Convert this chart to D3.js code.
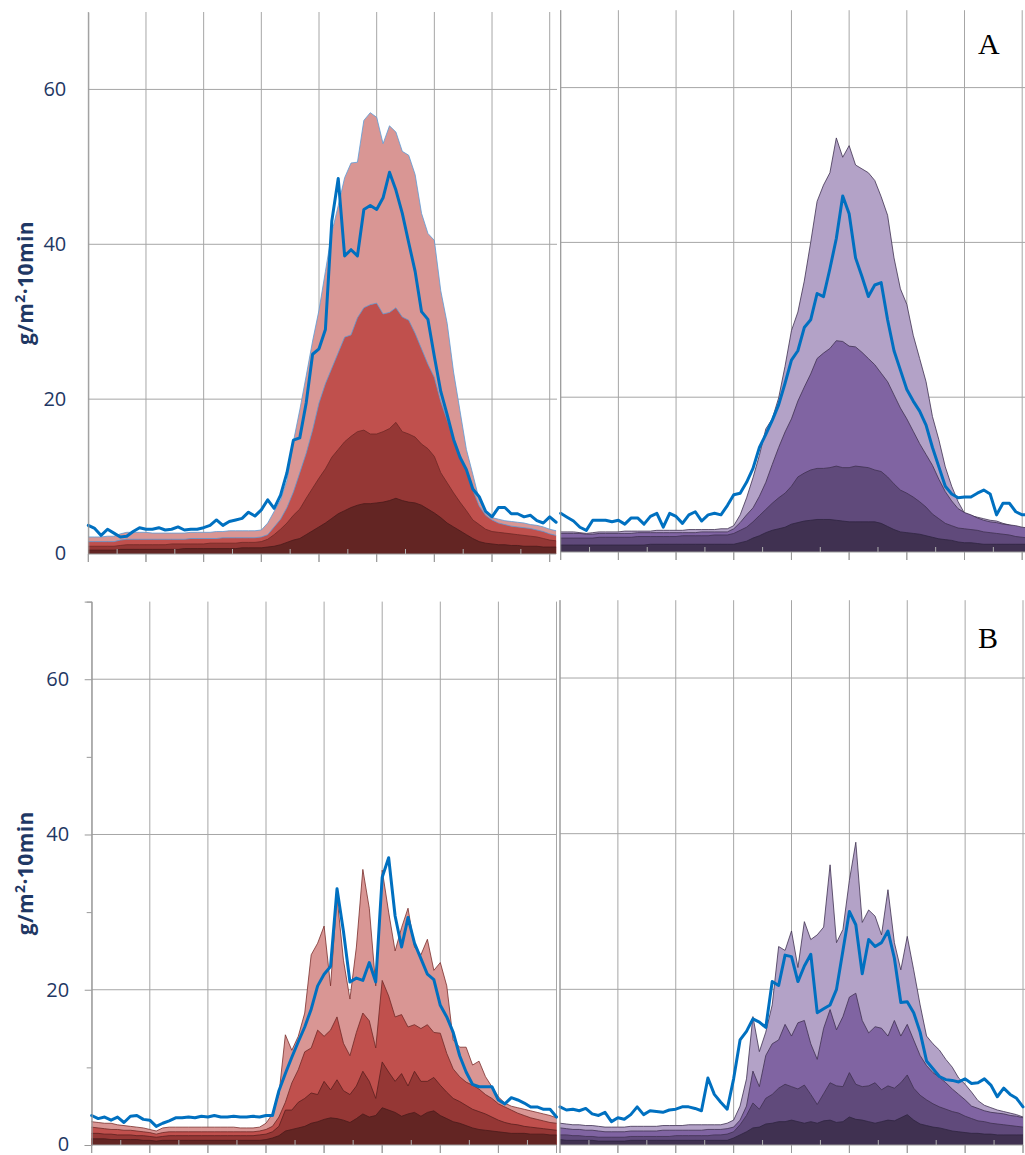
<!DOCTYPE html>
<html><head><meta charset="utf-8">
<script src="https://cdn.jsdelivr.net/npm/d3@7"></script>
<style>body{margin:0;background:#fff}svg{display:block}</style>
</head><body>
<svg id="c" width="1025" height="1155"></svg>
<script>
// ---------------- data ----------------
const yTickValues = [0, 20, 40, 60];
const yMinorValues = [10, 30, 50, 70];
const yTitleMain = "g/m";
const yTitleSup = "2";
const yTitleTail = "·10min";
const panelLetters = ["A", "B"];

// Panel A (red) : cumulative layer tops + measured line
const redA_L1 = [2.2,2.2,2.2,2.3,2.3,2.6,2.8,2.8,2.8,2.8, 2.7,2.7,2.7,2.7,2.7,2.7,2.8,2.8,2.8,2.8, 2.9,2.9,3.0,3.0,3.0,3.0,3.0,3.1,4.0,5.5, 7.0,9.5,14.5,18.6,23,27.5,31.5,36.5,41.5,45, 48.6,50.5,50.6,56,57,56.4,53,55.3,54.5,52, 51.5,49,44,41.4,40.5,34,29.8,23.5,18.5,13.5, 10.3,7.0,5.4,4.7,4.5,4.3,4.2,4.1,4.0,3.8, 3.7,3.5,3.2,3.0];
const redA_L2 = [1.6,1.6,1.6,1.6,1.6,1.8,1.9,1.9,1.9,1.9, 1.9,1.9,1.9,1.9,1.9,1.9,2.0,2.0,2.0,2.0, 2.0,2.1,2.1,2.1,2.1,2.1,2.1,2.2,2.5,3.5, 4.5,6.0,8.0,10.5,13,16,19.5,22,24,26, 28,28.3,30.5,31.8,32.2,32.4,31,31.2,31.8,30.6, 30.2,28.5,26.5,24.5,22.8,19.7,17.3,15,12.8,10.8, 8.3,6.2,5.0,4.4,4.0,3.8,3.6,3.5,3.4,3.3, 3.1,2.9,2.6,2.4];
const redA_L3 = [1.0,1.0,1.0,1.0,1.0,1.1,1.2,1.2,1.2,1.2, 1.2,1.2,1.2,1.3,1.3,1.3,1.3,1.3,1.3,1.4, 1.4,1.4,1.4,1.4,1.5,1.5,1.5,1.6,1.9,2.5, 3.2,4.0,5.0,5.8,7.2,8.5,9.8,11,12.5,13.5, 14.5,15.2,15.8,16,15.5,15.5,15.8,16.2,17,15.8, 15.5,15.1,14.2,13.6,12.6,10.5,9.2,7.9,6.7,5.6, 4.4,3.8,3.2,2.9,2.8,2.7,2.6,2.5,2.4,2.3, 2.2,2.0,1.8,1.7];
const redA_L4 = [0.5,0.5,0.5,0.5,0.5,0.6,0.6,0.6,0.6,0.6, 0.6,0.6,0.6,0.6,0.6,0.7,0.7,0.7,0.7,0.7, 0.7,0.7,0.7,0.7,0.8,0.8,0.8,0.8,0.9,1.0, 1.2,1.5,1.8,2.0,2.5,3.0,3.5,4.0,4.6,5.2, 5.6,6.0,6.3,6.5,6.5,6.6,6.7,6.9,7.2,6.9, 6.7,6.6,6.3,5.8,5.3,4.7,4.0,3.5,3.0,2.5, 2.0,1.6,1.4,1.3,1.2,1.2,1.1,1.1,1.0,1.0, 1.0,0.9,0.9,0.9];
const redA_line = [3.7,3.3,2.4,3.2,2.7,2.2,2.3,2.9,3.4,3.2, 3.2,3.4,3.1,3.2,3.5,3.1,3.2,3.2,3.4,3.7, 4.4,3.7,4.2,4.4,4.6,5.4,4.9,5.7,7.0,5.9, 7.6,10.5,14.7,15,19.5,25.8,26.5,29,43,48.5, 38.5,39.3,38.5,44.5,45,44.5,46,49.3,47,44, 40.2,36.5,31.3,30.3,25.5,21,18,14.8,12.5,10.9, 8.4,7.4,5.5,4.8,6.0,6.0,5.2,5.2,4.8,5.0, 4.3,4.0,4.8,4.1];

// Panel A (purple)
const purA_L1 = [2.6,2.6,2.6,2.5,2.4,2.5,2.6,2.6,2.6,2.6, 2.7,2.7,2.7,2.7,2.7,2.8,2.8,2.8,2.8,2.8, 2.9,2.9,2.9,2.9,2.9,3.0,3.0,3.4,4.8,7.0, 9.6,12.5,15.9,17.2,19.9,24,28.6,31,35,40, 45.3,47.4,49,53.5,51,52.5,50,49.5,49,48, 45.9,43.5,38,34,32,28,25,22,17.5,14.5, 11,8.5,6.5,5.0,4.7,4.5,4.3,4.1,4.0,3.7, 3.5,3.2,2.9,2.7];
const purA_L2 = [2.4,2.4,2.4,2.4,2.3,2.3,2.4,2.4,2.4,2.4, 2.4,2.4,2.5,2.5,2.5,2.5,2.5,2.5,2.5,2.5, 2.5,2.5,2.6,2.6,2.6,2.6,2.6,3.0,3.8,4.8, 5.7,7.2,9.0,11.3,13.5,15.5,17.2,19.5,21.3,23, 25,25.7,26.3,27.3,27.2,26.6,26.5,25.8,25,24.2, 23.1,22,20.3,18.6,17.2,15.6,14,12.6,11.2,9.4, 7.8,6.6,5.6,5.1,4.8,4.4,4.1,3.9,3.8,3.6, 3.5,3.4,3.2,3.1];
const purA_L3 = [1.8,1.8,1.8,1.8,1.8,1.8,1.9,1.9,1.9,1.9, 1.9,1.9,2.0,2.0,2.0,2.0,2.0,2.0,2.0,2.1, 2.1,2.1,2.1,2.1,2.2,2.2,2.2,2.4,2.8,3.2, 3.9,4.7,5.5,6.3,7.0,7.6,8.5,9.7,10.2,10.6, 10.8,10.8,10.9,11.1,10.9,10.9,11.1,11.0,10.9,10.6, 10.4,9.7,8.8,8.0,7.6,7.1,6.5,5.8,4.9,4.3, 3.7,3.4,3.1,3.0,2.9,2.8,2.6,2.5,2.4,2.3, 2.2,2.0,1.9,1.8];
const purA_L4 = [0.9,0.9,0.9,0.9,0.9,0.9,0.9,0.9,0.9,0.9, 0.9,0.9,0.9,0.9,1.0,1.0,1.0,1.0,1.0,1.0, 1.0,1.0,1.0,1.0,1.0,1.0,1.0,1.0,1.2,1.4, 1.8,2.1,2.5,2.8,3.0,3.2,3.6,3.8,4.0,4.1, 4.2,4.2,4.2,4.1,4.0,3.9,3.9,3.9,3.9,3.9, 3.7,3.3,2.9,2.6,2.5,2.4,2.3,2.1,1.9,1.7, 1.6,1.5,1.3,1.2,1.2,1.1,1.0,1.0,1.0,1.0, 1.0,1.0,1.0,1.0];
const purA_line = [5.0,4.5,4.0,3.2,2.8,4.1,4.1,4.1,3.9,4.1, 3.6,4.4,4.4,3.6,4.6,5.0,3.2,5.0,4.6,3.7, 4.8,5.2,4.0,4.8,5.0,4.8,6.0,7.4,7.6,9.0, 10.8,13.5,15.2,17,19,21.8,24.8,26,29,30, 33.4,33,36.6,40.5,46,43.7,38,35.6,33,34.5, 34.8,30,26,23.5,21,19.5,18.2,16.4,13.5,11, 8.5,7.5,7,7.1,7.1,7.6,8,7.5,4.8,6.3, 6.3,5.2,4.8,4.8];

// Panel B (red)
const redB_L1 = [3.0,2.9,2.8,2.8,2.6,2.5,2.4,2.3,2.2,2.0, 1.8,2.2,2.3,2.3,2.3,2.3,2.3,2.3,2.3,2.3, 2.3,2.3,2.3,2.2,2.2,2.2,2.3,2.8,4.0,6.5, 14.2,12.2,14,17,24.5,26,28.2,20.5,32,23.8, 18.8,25.5,35.5,30.5,20.5,35.4,30,25,28,30.5, 25.5,24.5,26.5,22.5,23.5,20.5,13.5,12.6,12.6,10.3, 10.8,8.8,7.5,6.2,5.4,5.0,4.8,4.6,4.4,4.2, 4.0,3.8,3.5];
const redB_L2 = [2.3,2.2,2.1,2.0,2.0,1.9,1.9,1.8,1.7,1.6, 1.4,1.6,1.7,1.7,1.7,1.7,1.7,1.7,1.7,1.7, 1.7,1.7,1.7,1.7,1.7,1.7,1.8,2.0,2.4,3.6, 5.5,8,9.7,12,12.5,14.8,14,14.8,16.5,13.1, 11.5,14.5,17,16,12.5,21.2,19.2,16.5,16.8,15.2, 15.5,15,15.5,14.5,14.4,11.8,9.8,8.8,8.1,7.7, 7.2,6.5,6.0,5.3,4.9,4.5,4.1,3.8,3.5,3.3, 3.1,2.9,2.8];
const redB_L3 = [1.5,1.5,1.4,1.4,1.3,1.3,1.3,1.2,1.2,1.1, 1.0,1.1,1.2,1.2,1.2,1.2,1.2,1.2,1.2,1.2, 1.2,1.2,1.2,1.2,1.2,1.2,1.3,1.4,1.7,2.4, 4.5,4.5,5.5,6.0,6.7,6.5,8.2,7.1,8.4,7.0, 6.5,7.6,9.5,8.2,6.0,10.7,9.4,8.2,9.2,7.6, 9.5,8.2,8.2,8.7,7.7,6.8,6.0,5.6,5.1,4.6, 4.3,4.0,3.6,3.2,2.9,2.7,2.6,2.4,2.3,2.2, 2.1,2.0,1.9];
const redB_L4 = [0.8,0.8,0.8,0.7,0.7,0.7,0.7,0.7,0.6,0.6, 0.5,0.6,0.6,0.6,0.6,0.6,0.6,0.6,0.6,0.6, 0.6,0.6,0.6,0.6,0.6,0.6,0.6,0.7,0.9,1.2, 1.8,2.0,2.2,2.4,2.8,3.0,3.3,3.5,3.4,3.2, 2.9,3.4,4.0,3.6,3.8,4.8,4.5,4.2,3.7,4.0, 4.2,3.7,4.2,4.4,3.8,3.4,3.0,2.8,2.5,2.2, 2.0,1.9,1.8,1.7,1.6,1.5,1.5,1.5,1.4,1.4, 1.4,1.3,1.3];
const redB_line = [3.8,3.4,3.6,3.2,3.6,2.9,3.7,3.8,3.3,3.2, 2.4,2.8,3.1,3.5,3.5,3.6,3.5,3.7,3.6,3.8, 3.6,3.6,3.7,3.6,3.6,3.7,3.6,3.8,3.8,7.0, 9.2,11.3,13.3,15.2,17.5,20.5,22,23,33,27.5, 21,21.5,21.2,23.5,21,34.5,37,29.5,25.5,29.3, 26,24,22,21.3,18,16.5,14.5,11.5,9.4,7.8, 7.5,7.5,7.5,5.8,5.3,6.1,5.8,5.4,4.9,4.9, 4.6,4.6,3.6];

// Panel B (purple)
const purB_L1 = [2.8,2.7,2.6,2.6,2.5,2.5,2.4,2.3,2.3,2.3, 2.3,2.4,2.4,2.4,2.4,2.4,2.5,2.5,2.5,2.5, 2.6,2.6,2.6,2.6,2.6,2.6,2.8,3.2,5.0,8.5, 16.5,12,14.5,18,25.5,25,27.5,22.8,28.7,26.4, 27,28,36,26,27.7,34,38.9,28.6,30.2,29.4, 27,32.8,26,22.5,26.8,22.5,18,14,13,12.2, 11,10,8.6,7.8,6.8,5.7,5.1,4.8,4.5,4.3, 4.1,3.9,3.6];
const purB_L2 = [2.2,2.1,2.0,2.0,1.9,1.9,1.8,1.7,1.7,1.7, 1.7,1.8,1.8,1.8,1.8,1.8,1.9,1.9,1.9,1.9, 1.9,1.9,1.9,2.0,2.0,2.0,2.1,2.3,3.2,5.0, 9.5,7.5,11.5,13,13.5,15.5,14,15.7,16,13, 11,15,17.4,14.8,16.5,19,19.5,16,14.4,15.2, 15,14,16,14,15.5,13.5,11.5,10.2,9.3,8.7, 8.0,7.2,6.5,5.8,5.0,4.7,4.4,4.2,4.1,4.0, 3.8,3.7,3.5];
const purB_L3 = [1.3,1.3,1.2,1.2,1.1,1.1,1.0,1.0,1.0,1.0, 1.0,1.1,1.1,1.1,1.1,1.1,1.1,1.1,1.2,1.2, 1.2,1.2,1.2,1.2,1.3,1.3,1.4,1.7,2.6,3.8, 5.4,4.6,6.0,6.5,7.3,7.8,7.5,7.2,7.7,6.5, 5.2,6.6,8.0,7.6,7.5,9.3,7.8,7.5,7.6,8.0, 7.1,7.6,7.3,8.0,9.0,7.3,6.4,5.8,5.3,4.9, 4.6,4.3,4.1,3.7,3.4,3.1,3.0,2.8,2.7,2.6, 2.5,2.4,2.3];
const purB_L4 = [0.7,0.6,0.6,0.6,0.6,0.6,0.5,0.5,0.5,0.5, 0.5,0.6,0.6,0.6,0.6,0.6,0.6,0.6,0.6,0.6, 0.6,0.6,0.6,0.6,0.6,0.6,0.6,0.9,1.3,1.7, 2.2,2.3,2.7,2.8,3.0,3.0,3.2,3.0,2.8,3.0, 2.8,3.1,3.2,2.9,3.0,3.6,3.3,3.2,3.0,2.8, 3.0,3.2,3.1,3.5,3.9,3.2,2.7,2.5,2.3,2.2, 2.0,1.8,1.7,1.6,1.5,1.5,1.4,1.4,1.3,1.3, 1.3,1.3,1.3];
const purB_line = [4.9,4.5,4.6,4.4,4.7,4.0,3.8,4.2,3.0,3.5, 3.3,3.9,4.9,3.9,4.4,4.3,4.2,4.5,4.6,4.9, 4.9,4.7,4.4,8.6,6.5,5.5,4.6,8.5,13.5,14.6, 16.2,15.8,15.1,21,20.5,24.4,24.2,21,23,24.5, 17,17.5,18,20,25,30,28.3,22,26.4,25.5, 26,27.5,24,18.3,18.4,17,14.5,10.8,9.8,8.8, 8.4,8.3,8.1,8.5,7.9,8.0,8.5,7.7,6.2,7.3, 6.5,6.0,4.9];

// ---------------- styles / layout ----------------
const redFills = ["#d99694", "#c0504d", "#953735", "#632523"];
const purFills = ["#b3a2c7", "#8064a2", "#604a7b", "#403151"];
const navy = "#1f3864";
const gridColor = "#a6a6a6";

const panels = [
  {layers:[redA_L1,redA_L2,redA_L3,redA_L4], line:redA_line, fills:redFills,
   strokes:["#5b9bd5","#5b9bd5","#6e2826","#4a1b1a"], x0:88.3, x1:549.7, yZero:554, yTop:12,
   gridRight:557, labels:true, leftTicks:false, letter:null},
  {layers:[purA_L1,purA_L2,purA_L3,purA_L4], line:purA_line, fills:purFills,
   strokes:["#3f3151","#3f3151","#3f3151","#2f2540"], x0:560.7, x1:1022.2, yZero:552, yTop:10.2,
   gridRight:1025, labels:false, leftTicks:false, letter:panelLetters[0], letterY:54},
  {layers:[redB_L1,redB_L2,redB_L3,redB_L4], line:redB_line, fills:redFills,
   strokes:["#7a2e2c","#6e2826","#5a1f1e","#4a1b1a"], x0:91.7, x1:556.5, yZero:1145, yTop:601.6,
   gridRight:557, labels:true, leftTicks:true, letter:null},
  {layers:[purB_L1,purB_L2,purB_L3,purB_L4], line:purB_line, fills:purFills,
   strokes:["#3f3151","#3f3151","#3f3151","#2f2540"], x0:560, x1:1023, yZero:1145, yTop:600.2,
   gridRight:1025, labels:false, leftTicks:false, letter:panelLetters[1], letterY:648}
];

const svg = d3.select("#c");

panels.forEach(p => {
  const g = svg.append("g");
  const x = d3.scaleLinear().domain([0, 72]).range([p.x0, p.x1]);
  const y = d3.scaleLinear().domain([0, 70]).range([p.yZero, p.yTop]);
  const n = p.layers[0].length;
  const xEnd = x(n - 1);

  // vertical gridlines (major x ticks)
  const majors = d3.range(0, 73, 9);
  g.append("g").selectAll("line").data(majors).join("line")
    .attr("x1", d => x(d)).attr("x2", d => x(d))
    .attr("y1", p.yTop).attr("y2", p.yZero + 8)
    .attr("stroke", gridColor).attr("stroke-width", 1);

  // horizontal gridlines
  g.append("g").selectAll("line").data(yTickValues.filter(v => v > 0)).join("line")
    .attr("x1", p.x0).attr("x2", p.gridRight)
    .attr("y1", d => y(d)).attr("y2", d => y(d))
    .attr("stroke", gridColor).attr("stroke-width", 1);

  // overlapping cumulative areas
  p.layers.forEach((arr, k) => {
    const area = d3.area().x((d, i) => x(i)).y0(y(0)).y1(d => y(d));
    const line = d3.line().x((d, i) => x(i)).y(d => y(d));
    g.append("path").datum(arr).attr("d", area).attr("fill", p.fills[k]);
    g.append("path").datum(arr).attr("d", line).attr("fill", "none")
      .attr("stroke", p.strokes[k]).attr("stroke-width", 0.8);
  });

  // measured line
  g.append("path").datum(p.line)
    .attr("d", d3.line().x((d, i) => x(i)).y(d => y(d)))
    .attr("fill", "none").attr("stroke", "#0070c0").attr("stroke-width", 3)
    .attr("stroke-linejoin", "round").attr("stroke-linecap", "round");

  // x axis baseline with minor ticks
  g.append("line").attr("x1", p.x0).attr("x2", xEnd).attr("y1", p.yZero).attr("y2", p.yZero)
    .attr("stroke", "#999").attr("stroke-width", 1.2);
  g.append("g").selectAll("line").data(d3.range(4.5, 72, 9)).join("line")
    .attr("x1", d => x(d)).attr("x2", d => x(d))
    .attr("y1", p.yZero).attr("y2", p.yZero - 5)
    .attr("stroke", "#b0b0b0").attr("stroke-width", 1);
  g.append("g").selectAll("line").data(majors).join("line")
    .attr("x1", d => x(d)).attr("x2", d => x(d))
    .attr("y1", p.yZero).attr("y2", p.yZero + 8)
    .attr("stroke", "#999").attr("stroke-width", 1);

  // y axis
  if (p.labels) {
    const ax = g.append("g").attr("transform", `translate(${p.x0},0)`)
      .call(d3.axisLeft(y).tickValues(yTickValues).tickFormat(d3.format("d"))
        .tickSize(p.leftTicks ? 7 : 0).tickPadding(p.leftTicks ? 15.5 : 22));
    ax.select(".domain").attr("stroke", "#999");
    ax.selectAll(".tick line").attr("stroke", "#999");
    ax.selectAll("text").attr("fill", navy).attr("font-size", 20)
      .attr("font-family", "'Open Sans', sans-serif")
      .attr("dy", d => d === 0 ? "0.26em" : "0.32em");
    if (p.leftTicks) {
      const mx = g.append("g").attr("transform", `translate(${p.x0},0)`)
        .call(d3.axisLeft(y).tickValues(yMinorValues).tickSize(5).tickFormat(""));
      mx.select(".domain").remove();
      mx.selectAll(".tick line").attr("stroke", "#999");
    }
    const t = g.append("text")
      .attr("transform", `translate(33,${(y(0) + y(70)) / 2}) rotate(-90)`)
      .attr("text-anchor", "middle")
      .attr("font-family", "'Open Sans', sans-serif").attr("font-weight", "bold")
      .attr("font-size", 21).attr("letter-spacing", 0.4).attr("fill", navy);
    t.append("tspan").text(yTitleMain);
    t.append("tspan").text(yTitleSup).attr("font-size", 14).attr("dy", -8);
    t.append("tspan").text(yTitleTail).attr("dy", 8);
  } else {
    g.append("line").attr("x1", p.x0).attr("x2", p.x0).attr("y1", p.yTop).attr("y2", p.yZero)
      .attr("stroke", "#999");
  }

  if (p.letter) {
    g.append("text").attr("x", 978).attr("y", p.letterY)
      .attr("font-family", "'Liberation Serif', 'Times New Roman', serif")
      .attr("font-size", 30).attr("fill", "#000").text(p.letter);
  }
});
</script>
</body></html>
